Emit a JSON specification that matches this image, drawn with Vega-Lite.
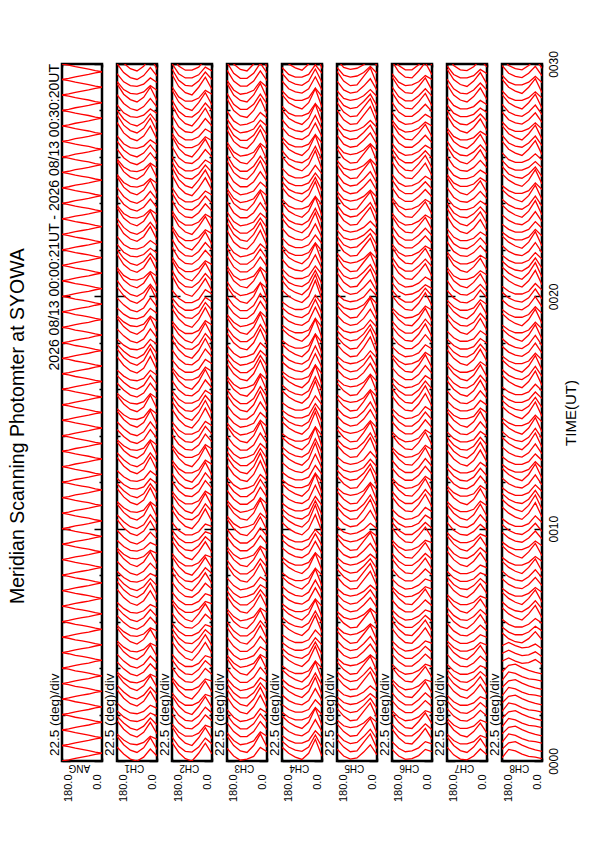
{
  "$schema": "https://vega.github.io/schema/vega-lite/v6.json",
  "padding": {"left": 8, "top": 50, "right": 5, "bottom": 5},
  "background": "white",
  "title": {"text": "Meridian Scanning Photomter at SYOWA", "orient": "left", "anchor": "middle", "fontSize": 19.5, "fontWeight": "normal", "color": "black", "offset": 18},
  "data": {
    "values": [
      {"t":0,"ANG":[0,3,7,10,13,17,20],"CH1":[36,18,5,0,10,31,13],"CH2":[48,22,6,0,20,46,18],"CH3":[33,13,2,5,12,35,24],"CH4":[36,20,10,4,20,56,12],"CH5":[31,13,5,8,23,42,16],"CH6":[30,13,4,6,14,30,24],"CH7":[36,16,5,3,13,31,16],"CH8":[8,30,26,18,12,10,6]},
      {"t":20,"ANG":[40,37,33,30,27,23,20],"CH1":[64,42,28,22,34,60,30],"CH2":[62,38,25,23,36,59,44],"CH3":[65,40,26,22,40,70,36],"CH4":[51,36,28,25,36,67,36],"CH5":[56,36,24,26,48,70,32],"CH6":[50,33,24,26,34,50,44],"CH7":[62,40,27,22,36,58,32],"CH8":[30,47,50,41,34,29,25]},
      {"t":40,"ANG":[40,43,47,50,53,57,60],"CH1":[70,54,44,42,48,64,56],"CH2":[88,62,46,40,60,86,58],"CH3":[73,53,42,45,52,75,64],"CH4":[66,53,46,46,53,78,60],"CH5":[71,53,45,48,63,82,56],"CH6":[82,60,46,44,62,84,56],"CH7":[70,53,44,44,50,66,59],"CH8":[48,70,66,58,52,50,46]},
      {"t":60,"ANG":[80,77,73,70,67,63,60],"CH1":[104,82,68,62,74,100,70],"CH2":[96,75,64,64,72,92,86],"CH3":[99,76,63,63,76,102,81],"CH4":[91,76,68,65,76,107,76],"CH5":[96,76,64,66,88,110,72],"CH6":[96,76,65,65,78,96,81],"CH7":[102,80,67,62,76,98,72],"CH8":[70,87,90,81,74,69,65]},
      {"t":80,"ANG":[80,83,87,90,93,97,100],"CH1":[116,98,85,80,90,111,93],"CH2":[122,98,85,83,96,119,104],"CH3":[119,96,83,83,96,122,101],"CH4":[116,100,90,84,100,136,92],"CH5":[106,91,86,89,98,114,100],"CH6":[122,100,86,84,102,124,96],"CH7":[110,93,84,84,90,106,99],"CH8":[88,110,106,98,92,90,86]},
      {"t":100,"ANG":[120,117,113,110,107,103,100],"CH1":[130,114,104,102,108,124,116],"CH2":[142,118,105,103,116,139,124],"CH3":[133,113,102,105,112,135,124],"CH4":[126,113,106,106,113,138,120],"CH5":[136,116,104,106,128,150,112],"CH6":[130,113,104,106,114,130,124],"CH7":[136,116,105,103,113,131,116],"CH8":[110,127,130,121,114,109,105]},
      {"t":120,"ANG":[120,123,127,130,133,137,140],"CH1":[150,134,124,122,128,144,136],"CH2":[168,142,126,120,140,166,138],"CH3":[165,140,126,122,140,170,136],"CH4":[146,133,126,126,133,158,140],"CH5":[151,133,125,128,143,162,136],"CH6":[156,136,125,125,138,156,141],"CH7":[156,136,125,123,133,151,136],"CH8":[128,150,146,138,132,130,126]},
      {"t":140,"ANG":[160,157,153,150,147,143,140],"CH1":[184,162,148,142,154,180,150],"CH2":[176,155,144,144,152,172,166],"CH3":[185,160,146,142,160,190,156],"CH4":[171,156,148,145,156,187,156],"CH5":[166,151,146,149,158,174,160],"CH6":[176,156,145,145,158,176,161],"CH7":[170,153,144,144,150,166,159],"CH8":[150,167,170,161,154,149,145]},
      {"t":160,"ANG":[160,163,167,170,173,177,180],"CH1":[196,178,165,160,170,191,173],"CH2":[208,182,166,160,180,206,178],"CH3":[199,176,163,163,176,202,181],"CH4":[196,180,170,164,180,216,172],"CH5":[186,171,166,169,178,194,180],"CH6":[202,180,166,164,182,204,176],"CH7":[202,180,167,162,176,198,172],"CH8":[168,190,186,178,172,170,166]},
      {"t":180,"ANG":[200,197,193,190,187,183,180],"CH1":[224,202,188,182,194,220,190],"CH2":[216,195,184,184,192,212,206],"CH3":[213,193,182,185,192,215,204],"CH4":[211,196,188,185,196,227,196],"CH5":[216,196,184,186,208,230,192],"CH6":[210,193,184,186,194,210,204],"CH7":[222,200,187,182,196,218,192],"CH8":[190,207,210,201,194,189,185]},
      {"t":200,"ANG":[200,203,207,210,213,217,220],"CH1":[230,214,204,202,208,224,216],"CH2":[242,218,205,203,216,239,224],"CH3":[239,216,203,203,216,242,221],"CH4":[236,220,210,204,220,256,212],"CH5":[231,213,205,208,223,242,216],"CH6":[242,220,206,204,222,244,216],"CH7":[236,216,205,203,213,231,216],"CH8":[208,230,226,218,212,210,206]},
      {"t":220,"ANG":[240,237,233,230,227,223,220],"CH1":[256,238,225,220,230,251,233],"CH2":[262,238,225,223,236,259,244],"CH3":[265,240,226,222,240,270,236],"CH4":[246,233,226,226,233,258,240],"CH5":[256,236,224,226,248,270,232],"CH6":[250,233,224,226,234,250,244],"CH7":[250,233,224,224,230,246,239],"CH8":[230,247,250,241,234,229,225]},
      {"t":240,"ANG":[240,243,247,250,253,257,260],"CH1":[276,258,245,240,250,271,253],"CH2":[276,255,244,244,252,272,266],"CH3":[273,253,242,245,252,275,264],"CH4":[276,260,250,244,260,296,252],"CH5":[266,251,246,249,258,274,260],"CH6":[276,256,245,245,258,276,261],"CH7":[276,256,245,243,253,271,256],"CH8":[258,266,258,252,254,262,250]},
      {"t":260,"ANG":[280,277,273,270,267,263,260],"CH1":[304,282,268,262,274,300,270],"CH2":[308,282,266,260,280,306,278],"CH3":[293,273,262,265,272,295,284],"CH4":[291,276,268,265,276,307,276],"CH5":[291,273,265,268,283,302,276],"CH6":[296,276,265,265,278,296,281],"CH7":[302,280,267,262,276,298,272],"CH8":[278,286,278,272,274,282,270]},
      {"t":280,"ANG":[280,283,287,290,293,297,300],"CH1":[310,294,284,282,288,304,296],"CH2":[328,302,286,280,300,326,298],"CH3":[319,296,283,283,296,322,301],"CH4":[306,293,286,286,293,318,300],"CH5":[311,293,285,288,303,322,296],"CH6":[310,293,284,286,294,310,304],"CH7":[310,293,284,284,290,306,299],"CH8":[298,306,298,292,294,302,290]},
      {"t":300,"ANG":[320,317,313,310,307,303,300],"CH1":[344,322,308,302,314,340,310],"CH2":[342,318,305,303,316,339,324],"CH3":[345,320,306,302,320,350,316],"CH4":[326,313,306,306,313,338,320],"CH5":[336,316,304,306,328,350,312],"CH6":[342,320,306,304,322,344,316],"CH7":[330,313,304,304,310,326,319],"CH8":[331,316,308,305,316,334,313]},
      {"t":320,"ANG":[320,323,327,330,333,337,340],"CH1":[350,334,324,322,328,344,336],"CH2":[356,335,324,324,332,352,346],"CH3":[359,336,323,323,336,362,341],"CH4":[356,340,330,324,340,376,332],"CH5":[346,331,326,329,338,354,340],"CH6":[362,340,326,324,342,364,336],"CH7":[356,336,325,323,333,351,336],"CH8":[346,333,326,326,333,348,336]},
      {"t":340,"ANG":[360,357,353,350,347,343,340],"CH1":[376,358,345,340,350,371,353],"CH2":[382,358,345,343,356,379,364],"CH3":[385,360,346,342,360,390,356],"CH4":[371,356,348,345,356,387,356],"CH5":[376,356,344,346,368,390,352],"CH6":[376,356,345,345,358,376,361],"CH7":[382,360,347,342,356,378,352],"CH8":[366,353,346,346,353,368,356]},
      {"t":360,"ANG":[360,363,367,370,373,377,380],"CH1":[396,378,365,360,370,391,373],"CH2":[408,382,366,360,380,406,378],"CH3":[393,373,362,365,372,395,384],"CH4":[396,380,370,364,380,416,372],"CH5":[386,371,366,369,378,394,380],"CH6":[390,373,364,366,374,390,384],"CH7":[396,376,365,363,373,391,376],"CH8":[396,380,370,364,380,402,370]},
      {"t":380,"ANG":[400,397,393,390,387,383,380],"CH1":[410,394,384,382,388,404,396],"CH2":[416,395,384,384,392,412,406],"CH3":[425,400,386,382,400,430,396],"CH4":[406,393,386,386,393,418,400],"CH5":[411,393,385,388,403,422,396],"CH6":[416,396,385,385,398,416,401],"CH7":[422,400,387,382,396,418,392],"CH8":[411,396,388,385,396,414,393]},
      {"t":400,"ANG":[400,403,407,410,413,417,420],"CH1":[444,422,408,402,414,440,410],"CH2":[436,415,404,404,412,432,426],"CH3":[439,416,403,403,416,442,421],"CH4":[431,416,408,405,416,447,416],"CH5":[431,413,405,408,423,442,416],"CH6":[442,420,406,404,422,444,416],"CH7":[430,413,404,404,410,426,419],"CH8":[436,420,410,404,420,442,410]},
      {"t":420,"ANG":[440,437,433,430,427,423,420],"CH1":[464,442,428,422,434,460,430],"CH2":[462,438,425,423,436,459,444],"CH3":[453,433,422,425,432,455,444],"CH4":[451,436,428,425,436,467,436],"CH5":[446,431,426,429,438,454,440],"CH6":[450,433,424,426,434,450,444],"CH7":[462,440,427,422,436,458,432],"CH8":[446,433,426,426,433,448,436]},
      {"t":440,"ANG":[440,443,447,450,453,457,460],"CH1":[476,458,445,440,450,471,453],"CH2":[488,462,446,440,460,486,458],"CH3":[473,453,442,445,452,475,464],"CH4":[476,460,450,444,460,496,452],"CH5":[476,456,444,446,468,490,452],"CH6":[470,453,444,446,454,470,464],"CH7":[476,456,445,443,453,471,456],"CH8":[471,456,448,445,456,474,453]},
      {"t":460,"ANG":[480,477,473,470,467,463,460],"CH1":[490,474,464,462,468,484,476],"CH2":[502,478,465,463,476,499,484],"CH3":[505,480,466,462,480,510,476],"CH4":[486,473,466,466,473,498,480],"CH5":[496,476,464,466,488,510,472],"CH6":[496,476,465,465,478,496,481],"CH7":[490,473,464,464,470,486,479],"CH8":[491,476,468,465,476,494,473]},
      {"t":480,"ANG":[480,483,487,490,493,497,500],"CH1":[516,498,485,480,490,511,493],"CH2":[528,502,486,480,500,526,498],"CH3":[519,496,483,483,496,522,501],"CH4":[516,500,490,484,500,536,492],"CH5":[511,493,485,488,503,522,496],"CH6":[522,500,486,484,502,524,496],"CH7":[510,493,484,484,490,506,499],"CH8":[516,500,490,484,500,522,490]},
      {"t":500,"ANG":[520,517,513,510,507,503,500],"CH1":[544,522,508,502,514,540,510],"CH2":[536,515,504,504,512,532,526],"CH3":[545,520,506,502,520,550,516],"CH4":[526,513,506,506,513,538,520],"CH5":[526,511,506,509,518,534,520],"CH6":[536,516,505,505,518,536,521],"CH7":[542,520,507,502,516,538,512],"CH8":[526,513,506,506,513,528,516]},
      {"t":520,"ANG":[520,523,527,530,533,537,540],"CH1":[550,534,524,522,528,544,536],"CH2":[568,542,526,520,540,566,538],"CH3":[553,533,522,525,532,555,544],"CH4":[551,536,528,525,536,567,536],"CH5":[551,533,525,528,543,562,536],"CH6":[562,540,526,524,542,564,536],"CH7":[556,536,525,523,533,551,536],"CH8":[556,540,530,524,540,562,530]},
      {"t":540,"ANG":[560,557,553,550,547,543,540],"CH1":[570,554,544,542,548,564,556],"CH2":[582,558,545,543,556,579,564],"CH3":[579,556,543,543,556,582,561],"CH4":[571,556,548,545,556,587,556],"CH5":[576,556,544,546,568,590,552],"CH6":[570,553,544,546,554,570,564],"CH7":[582,560,547,542,556,578,552],"CH8":[566,553,546,546,553,568,556]},
      {"t":560,"ANG":[560,563,567,570,573,577,580],"CH1":[596,578,565,560,570,591,573],"CH2":[596,575,564,564,572,592,586],"CH3":[599,576,563,563,576,602,581],"CH4":[586,573,566,566,573,598,580],"CH5":[586,571,566,569,578,594,580],"CH6":[602,580,566,564,582,604,576],"CH7":[590,573,564,564,570,586,579],"CH8":[591,576,568,565,576,594,573]},
      {"t":580,"ANG":[600,597,593,590,587,583,580],"CH1":[624,602,588,582,594,620,590],"CH2":[616,595,584,584,592,612,606],"CH3":[625,600,586,582,600,630,596],"CH4":[616,600,590,584,600,636,592],"CH5":[606,591,586,589,598,614,600],"CH6":[616,596,585,585,598,616,601],"CH7":[616,596,585,583,593,611,596],"CH8":[611,596,588,585,596,614,593]},
      {"t":600,"ANG":[600,603,607,610,613,617,620],"CH1":[636,618,605,600,610,636,613],"CH2":[648,622,606,600,620,651,618],"CH3":[633,613,602,605,612,640,624],"CH4":[636,620,610,604,620,661,612],"CH5":[631,613,605,608,623,647,616],"CH6":[630,613,604,606,614,635,624],"CH7":[636,616,605,603,613,636,616],"CH8":[626,613,606,606,613,633,616]},
      {"t":620,"ANG":[640,637,633,630,627,623,620],"CH1":[664,642,628,622,634,665,630],"CH2":[662,638,625,623,636,664,644],"CH3":[665,640,626,622,640,675,636],"CH4":[651,636,628,625,636,672,636],"CH5":[656,636,624,626,648,675,632],"CH6":[650,633,624,626,634,655,644],"CH7":[662,640,627,622,636,663,632],"CH8":[656,640,630,624,640,667,630]},
      {"t":640,"ANG":[640,643,647,650,653,657,660],"CH1":[670,654,644,642,648,669,656],"CH2":[688,662,646,640,660,691,658],"CH3":[673,653,642,645,652,680,664],"CH4":[666,653,646,646,653,683,660],"CH5":[671,653,645,648,663,687,656],"CH6":[682,660,646,644,662,689,656],"CH7":[670,653,644,644,650,671,659],"CH8":[676,660,650,644,660,687,650]},
      {"t":660,"ANG":[680,677,673,670,667,663,660],"CH1":[704,682,668,662,674,705,670],"CH2":[696,675,664,664,672,697,686],"CH3":[699,676,663,663,676,707,681],"CH4":[691,676,668,665,676,712,676],"CH5":[696,676,664,666,688,715,672],"CH6":[696,676,665,665,678,701,681],"CH7":[702,680,667,662,676,703,672],"CH8":[691,676,668,665,676,699,673]},
      {"t":680,"ANG":[680,683,687,690,693,697,700],"CH1":[716,698,685,680,690,716,693],"CH2":[722,698,685,683,696,724,704],"CH3":[719,696,683,683,696,727,701],"CH4":[716,700,690,684,700,741,692],"CH5":[706,691,686,689,698,719,700],"CH6":[722,700,686,684,702,729,696],"CH7":[710,693,684,684,690,711,699],"CH8":[706,693,686,686,693,713,696]},
      {"t":700,"ANG":[720,717,713,710,707,703,700],"CH1":[730,714,704,702,708,729,716],"CH2":[742,718,705,703,716,744,724],"CH3":[733,713,702,705,712,740,724],"CH4":[726,713,706,706,713,743,720],"CH5":[736,716,704,706,728,755,712],"CH6":[730,713,704,706,714,735,724],"CH7":[736,716,705,703,713,736,716],"CH8":[731,716,708,705,716,739,713]},
      {"t":720,"ANG":[720,723,727,730,733,737,740],"CH1":[750,734,724,722,728,749,736],"CH2":[768,742,726,720,740,771,738],"CH3":[765,740,726,722,740,775,736],"CH4":[746,733,726,726,733,763,740],"CH5":[751,733,725,728,743,767,736],"CH6":[756,736,725,725,738,761,741],"CH7":[756,736,725,723,733,756,736],"CH8":[756,740,730,724,740,767,730]},
      {"t":740,"ANG":[760,757,753,750,747,743,740],"CH1":[784,762,748,742,754,785,750],"CH2":[776,755,744,744,752,777,766],"CH3":[785,760,746,742,760,795,756],"CH4":[771,756,748,745,756,792,756],"CH5":[766,751,746,749,758,779,760],"CH6":[776,756,745,745,758,781,761],"CH7":[770,753,744,744,750,771,759],"CH8":[766,753,746,746,753,773,756]},
      {"t":760,"ANG":[760,763,767,770,773,777,780],"CH1":[796,778,765,760,770,796,773],"CH2":[808,782,766,760,780,811,778],"CH3":[799,776,763,763,776,807,781],"CH4":[796,780,770,764,780,821,772],"CH5":[786,771,766,769,778,799,780],"CH6":[802,780,766,764,782,809,776],"CH7":[802,780,767,762,776,803,772],"CH8":[786,773,766,766,773,793,776]},
      {"t":780,"ANG":[800,797,793,790,787,783,780],"CH1":[824,802,788,782,794,825,790],"CH2":[816,795,784,784,792,817,806],"CH3":[813,793,782,785,792,820,804],"CH4":[811,796,788,785,796,832,796],"CH5":[816,796,784,786,808,835,792],"CH6":[810,793,784,786,794,815,804],"CH7":[822,800,787,782,796,823,792],"CH8":[811,796,788,785,796,819,793]},
      {"t":800,"ANG":[800,803,807,810,813,817,820],"CH1":[830,814,804,802,808,829,816],"CH2":[842,818,805,803,816,844,824],"CH3":[839,816,803,803,816,847,821],"CH4":[836,820,810,804,820,861,812],"CH5":[831,813,805,808,823,847,816],"CH6":[842,820,806,804,822,849,816],"CH7":[836,816,805,803,813,836,816],"CH8":[836,820,810,804,820,847,810]},
      {"t":820,"ANG":[840,837,833,830,827,823,820],"CH1":[856,838,825,820,830,856,833],"CH2":[862,838,825,823,836,864,844],"CH3":[865,840,826,822,840,875,836],"CH4":[846,833,826,826,833,863,840],"CH5":[856,836,824,826,848,875,832],"CH6":[850,833,824,826,834,855,844],"CH7":[850,833,824,824,830,851,839],"CH8":[851,836,828,825,836,859,833]},
      {"t":840,"ANG":[840,843,847,850,853,857,860],"CH1":[876,858,845,840,850,876,853],"CH2":[876,855,844,844,852,877,866],"CH3":[873,853,842,845,852,880,864],"CH4":[876,860,850,844,860,901,852],"CH5":[866,851,846,849,858,879,860],"CH6":[876,856,845,845,858,881,861],"CH7":[876,856,845,843,853,876,856],"CH8":[876,860,850,844,860,887,850]},
      {"t":860,"ANG":[880,877,873,870,867,863,860],"CH1":[904,882,868,862,874,905,870],"CH2":[908,882,866,860,880,911,878],"CH3":[893,873,862,865,872,900,884],"CH4":[891,876,868,865,876,912,876],"CH5":[891,873,865,868,883,907,876],"CH6":[896,876,865,865,878,901,881],"CH7":[902,880,867,862,876,903,872],"CH8":[886,873,866,866,873,893,876]},
      {"t":880,"ANG":[880,883,887,890,893,897,900],"CH1":[910,894,884,882,888,909,896],"CH2":[928,902,886,880,900,931,898],"CH3":[919,896,883,883,896,927,901],"CH4":[906,893,886,886,893,923,900],"CH5":[911,893,885,888,903,927,896],"CH6":[910,893,884,886,894,915,904],"CH7":[910,893,884,884,890,911,899],"CH8":[916,900,890,884,900,927,890]},
      {"t":900,"ANG":[920,917,913,910,907,903,900],"CH1":[944,922,908,902,914,945,910],"CH2":[942,918,905,903,916,944,924],"CH3":[945,920,906,902,920,955,916],"CH4":[926,913,906,906,913,943,920],"CH5":[936,916,904,906,928,955,912],"CH6":[942,920,906,904,922,949,916],"CH7":[930,913,904,904,910,931,919],"CH8":[931,916,908,905,916,939,913]},
      {"t":920,"ANG":[920,923,927,930,933,937,940],"CH1":[950,934,924,922,928,949,936],"CH2":[956,935,924,924,932,957,946],"CH3":[959,936,923,923,936,967,941],"CH4":[956,940,930,924,940,981,932],"CH5":[946,931,926,929,938,959,940],"CH6":[962,940,926,924,942,969,936],"CH7":[956,936,925,923,933,956,936],"CH8":[946,933,926,926,933,953,936]},
      {"t":940,"ANG":[960,957,953,950,947,943,940],"CH1":[976,958,945,940,950,976,953],"CH2":[982,958,945,943,956,984,964],"CH3":[985,960,946,942,960,995,956],"CH4":[971,956,948,945,956,992,956],"CH5":[976,956,944,946,968,995,952],"CH6":[976,956,945,945,958,981,961],"CH7":[982,960,947,942,956,983,952],"CH8":[966,953,946,946,953,973,956]},
      {"t":960,"ANG":[960,963,967,970,973,977,980],"CH1":[996,978,965,960,970,996,973],"CH2":[1008,982,966,960,980,1011,978],"CH3":[993,973,962,965,972,1000,984],"CH4":[996,980,970,964,980,1021,972],"CH5":[986,971,966,969,978,999,980],"CH6":[990,973,964,966,974,995,984],"CH7":[996,976,965,963,973,996,976],"CH8":[996,980,970,964,980,1007,970]},
      {"t":980,"ANG":[1000,997,993,990,987,983,980],"CH1":[1010,994,984,982,988,1009,996],"CH2":[1016,995,984,984,992,1017,1006],"CH3":[1025,1000,986,982,1000,1035,996],"CH4":[1006,993,986,986,993,1023,1000],"CH5":[1011,993,985,988,1003,1027,996],"CH6":[1016,996,985,985,998,1021,1001],"CH7":[1022,1000,987,982,996,1023,992],"CH8":[1011,996,988,985,996,1019,993]},
      {"t":1000,"ANG":[1000,1003,1007,1010,1013,1017,1020],"CH1":[1044,1022,1008,1002,1014,1045,1010],"CH2":[1036,1015,1004,1004,1012,1037,1026],"CH3":[1039,1016,1003,1003,1016,1047,1021],"CH4":[1031,1016,1008,1005,1016,1052,1016],"CH5":[1031,1013,1005,1008,1023,1047,1016],"CH6":[1042,1020,1006,1004,1022,1049,1016],"CH7":[1030,1013,1004,1004,1010,1031,1019],"CH8":[1036,1020,1010,1004,1020,1047,1010]},
      {"t":1020,"ANG":[1040,1037,1033,1030,1027,1023,1020],"CH1":[1064,1042,1028,1022,1034,1065,1030],"CH2":[1062,1038,1025,1023,1036,1064,1044],"CH3":[1053,1033,1022,1025,1032,1060,1044],"CH4":[1051,1036,1028,1025,1036,1072,1036],"CH5":[1046,1031,1026,1029,1038,1059,1040],"CH6":[1050,1033,1024,1026,1034,1055,1044],"CH7":[1062,1040,1027,1022,1036,1063,1032],"CH8":[1046,1033,1026,1026,1033,1053,1036]},
      {"t":1040,"ANG":[1040,1043,1047,1050,1053,1057,1060],"CH1":[1076,1058,1045,1040,1050,1076,1053],"CH2":[1088,1062,1046,1040,1060,1091,1058],"CH3":[1073,1053,1042,1045,1052,1080,1064],"CH4":[1076,1060,1050,1044,1060,1101,1052],"CH5":[1076,1056,1044,1046,1068,1095,1052],"CH6":[1070,1053,1044,1046,1054,1075,1064],"CH7":[1076,1056,1045,1043,1053,1076,1056],"CH8":[1071,1056,1048,1045,1056,1079,1053]},
      {"t":1060,"ANG":[1080,1077,1073,1070,1067,1063,1060],"CH1":[1090,1074,1064,1062,1068,1089,1076],"CH2":[1102,1078,1065,1063,1076,1104,1084],"CH3":[1105,1080,1066,1062,1080,1115,1076],"CH4":[1086,1073,1066,1066,1073,1103,1080],"CH5":[1096,1076,1064,1066,1088,1115,1072],"CH6":[1096,1076,1065,1065,1078,1101,1081],"CH7":[1090,1073,1064,1064,1070,1091,1079],"CH8":[1091,1076,1068,1065,1076,1099,1073]},
      {"t":1080,"ANG":[1080,1083,1087,1090,1093,1097,1100],"CH1":[1116,1098,1085,1080,1090,1116,1093],"CH2":[1128,1102,1086,1080,1100,1131,1098],"CH3":[1119,1096,1083,1083,1096,1127,1101],"CH4":[1116,1100,1090,1084,1100,1141,1092],"CH5":[1111,1093,1085,1088,1103,1127,1096],"CH6":[1122,1100,1086,1084,1102,1129,1096],"CH7":[1110,1093,1084,1084,1090,1111,1099],"CH8":[1116,1100,1090,1084,1100,1127,1090]},
      {"t":1100,"ANG":[1120,1117,1113,1110,1107,1103,1100],"CH1":[1144,1122,1108,1102,1114,1145,1110],"CH2":[1136,1115,1104,1104,1112,1137,1126],"CH3":[1145,1120,1106,1102,1120,1155,1116],"CH4":[1126,1113,1106,1106,1113,1143,1120],"CH5":[1126,1111,1106,1109,1118,1139,1120],"CH6":[1136,1116,1105,1105,1118,1141,1121],"CH7":[1142,1120,1107,1102,1116,1143,1112],"CH8":[1126,1113,1106,1106,1113,1133,1116]},
      {"t":1120,"ANG":[1120,1123,1127,1130,1133,1137,1140],"CH1":[1150,1134,1124,1122,1128,1149,1136],"CH2":[1168,1142,1126,1120,1140,1171,1138],"CH3":[1153,1133,1122,1125,1132,1160,1144],"CH4":[1151,1136,1128,1125,1136,1172,1136],"CH5":[1151,1133,1125,1128,1143,1167,1136],"CH6":[1162,1140,1126,1124,1142,1169,1136],"CH7":[1156,1136,1125,1123,1133,1156,1136],"CH8":[1156,1140,1130,1124,1140,1167,1130]},
      {"t":1140,"ANG":[1160,1157,1153,1150,1147,1143,1140],"CH1":[1170,1154,1144,1142,1148,1169,1156],"CH2":[1182,1158,1145,1143,1156,1184,1164],"CH3":[1179,1156,1143,1143,1156,1187,1161],"CH4":[1171,1156,1148,1145,1156,1192,1156],"CH5":[1176,1156,1144,1146,1168,1195,1152],"CH6":[1170,1153,1144,1146,1154,1175,1164],"CH7":[1182,1160,1147,1142,1156,1183,1152],"CH8":[1166,1153,1146,1146,1153,1173,1156]},
      {"t":1160,"ANG":[1160,1163,1167,1170,1173,1177,1180],"CH1":[1196,1178,1165,1160,1170,1196,1173],"CH2":[1196,1175,1164,1164,1172,1197,1186],"CH3":[1199,1176,1163,1163,1176,1207,1181],"CH4":[1186,1173,1166,1166,1173,1203,1180],"CH5":[1186,1171,1166,1169,1178,1199,1180],"CH6":[1202,1180,1166,1164,1182,1209,1176],"CH7":[1190,1173,1164,1164,1170,1191,1179],"CH8":[1191,1176,1168,1165,1176,1199,1173]},
      {"t":1180,"ANG":[1200,1197,1193,1190,1187,1183,1180],"CH1":[1224,1202,1188,1182,1194,1225,1190],"CH2":[1216,1195,1184,1184,1192,1217,1206],"CH3":[1225,1200,1186,1182,1200,1235,1196],"CH4":[1216,1200,1190,1184,1200,1241,1192],"CH5":[1206,1191,1186,1189,1198,1219,1200],"CH6":[1216,1196,1185,1185,1198,1221,1201],"CH7":[1216,1196,1185,1183,1193,1216,1196],"CH8":[1211,1196,1188,1185,1196,1219,1193]},
      {"t":1200,"ANG":[1200,1203,1207,1210,1213,1217,1220],"CH1":[1241,1218,1205,1200,1210,1231,1209],"CH2":[1253,1222,1206,1200,1220,1246,1214],"CH3":[1238,1213,1202,1205,1212,1235,1220],"CH4":[1241,1220,1210,1204,1220,1256,1208],"CH5":[1236,1213,1205,1208,1223,1242,1212],"CH6":[1235,1213,1204,1206,1214,1230,1220],"CH7":[1241,1216,1205,1203,1213,1231,1212],"CH8":[1226,1213,1206,1206,1213,1233,1216]},
      {"t":1220,"ANG":[1240,1237,1233,1230,1227,1223,1220],"CH1":[1269,1242,1228,1222,1234,1260,1226],"CH2":[1267,1238,1225,1223,1236,1259,1240],"CH3":[1270,1240,1226,1222,1240,1270,1232],"CH4":[1256,1236,1228,1225,1236,1267,1232],"CH5":[1261,1236,1224,1226,1248,1270,1228],"CH6":[1255,1233,1224,1226,1234,1250,1240],"CH7":[1267,1240,1227,1222,1236,1258,1228],"CH8":[1256,1240,1230,1224,1240,1267,1230]},
      {"t":1240,"ANG":[1240,1243,1247,1250,1253,1257,1260],"CH1":[1275,1254,1244,1242,1248,1264,1252],"CH2":[1293,1262,1246,1240,1260,1286,1254],"CH3":[1278,1253,1242,1245,1252,1275,1260],"CH4":[1271,1253,1246,1246,1253,1278,1256],"CH5":[1276,1253,1245,1248,1263,1282,1252],"CH6":[1287,1260,1246,1244,1262,1284,1252],"CH7":[1275,1253,1244,1244,1250,1266,1255],"CH8":[1276,1260,1250,1244,1260,1287,1250]},
      {"t":1260,"ANG":[1280,1277,1273,1270,1267,1263,1260],"CH1":[1309,1282,1268,1262,1274,1300,1266],"CH2":[1301,1275,1264,1264,1272,1292,1282],"CH3":[1304,1276,1263,1263,1276,1302,1277],"CH4":[1296,1276,1268,1265,1276,1307,1272],"CH5":[1301,1276,1264,1266,1288,1310,1268],"CH6":[1301,1276,1265,1265,1278,1296,1277],"CH7":[1307,1280,1267,1262,1276,1298,1268],"CH8":[1291,1276,1268,1265,1276,1299,1273]},
      {"t":1280,"ANG":[1280,1283,1287,1290,1293,1297,1300],"CH1":[1321,1298,1285,1280,1290,1311,1289],"CH2":[1327,1298,1285,1283,1296,1319,1300],"CH3":[1324,1296,1283,1283,1296,1322,1297],"CH4":[1321,1300,1290,1284,1300,1336,1288],"CH5":[1311,1291,1286,1289,1298,1314,1296],"CH6":[1327,1300,1286,1284,1302,1324,1292],"CH7":[1315,1293,1284,1284,1290,1306,1295],"CH8":[1306,1293,1286,1286,1293,1313,1296]},
      {"t":1300,"ANG":[1320,1317,1313,1310,1307,1303,1300],"CH1":[1335,1314,1304,1302,1308,1324,1312],"CH2":[1347,1318,1305,1303,1316,1339,1320],"CH3":[1338,1313,1302,1305,1312,1335,1320],"CH4":[1331,1313,1306,1306,1313,1338,1316],"CH5":[1341,1316,1304,1306,1328,1350,1308],"CH6":[1335,1313,1304,1306,1314,1330,1320],"CH7":[1341,1316,1305,1303,1313,1331,1312],"CH8":[1331,1316,1308,1305,1316,1339,1313]},
      {"t":1320,"ANG":[1320,1323,1327,1330,1333,1337,1340],"CH1":[1355,1334,1324,1322,1328,1344,1332],"CH2":[1373,1342,1326,1320,1340,1366,1334],"CH3":[1370,1340,1326,1322,1340,1370,1332],"CH4":[1351,1333,1326,1326,1333,1358,1336],"CH5":[1356,1333,1325,1328,1343,1362,1332],"CH6":[1361,1336,1325,1325,1338,1356,1337],"CH7":[1361,1336,1325,1323,1333,1351,1332],"CH8":[1356,1340,1330,1324,1340,1367,1330]},
      {"t":1340,"ANG":[1360,1357,1353,1350,1347,1343,1340],"CH1":[1389,1362,1348,1342,1354,1380,1346],"CH2":[1381,1355,1344,1344,1352,1372,1362],"CH3":[1390,1360,1346,1342,1360,1390,1352],"CH4":[1376,1356,1348,1345,1356,1387,1352],"CH5":[1371,1351,1346,1349,1358,1374,1356],"CH6":[1381,1356,1345,1345,1358,1376,1357],"CH7":[1375,1353,1344,1344,1350,1366,1355],"CH8":[1366,1353,1346,1346,1353,1373,1356]},
      {"t":1360,"ANG":[1360,1363,1367,1370,1373,1377,1380],"CH1":[1401,1378,1365,1360,1370,1391,1369],"CH2":[1413,1382,1366,1360,1380,1406,1374],"CH3":[1404,1376,1363,1363,1376,1402,1377],"CH4":[1401,1380,1370,1364,1380,1416,1368],"CH5":[1391,1371,1366,1369,1378,1394,1376],"CH6":[1407,1380,1366,1364,1382,1404,1372],"CH7":[1407,1380,1367,1362,1376,1398,1368],"CH8":[1386,1373,1366,1366,1373,1393,1376]},
      {"t":1380,"ANG":[1400,1397,1393,1390,1387,1383,1380],"CH1":[1429,1402,1388,1382,1394,1420,1386],"CH2":[1421,1395,1384,1384,1392,1412,1402],"CH3":[1418,1393,1382,1385,1392,1415,1400],"CH4":[1416,1396,1388,1385,1396,1427,1392],"CH5":[1421,1396,1384,1386,1408,1430,1388],"CH6":[1415,1393,1384,1386,1394,1410,1400],"CH7":[1427,1400,1387,1382,1396,1418,1388],"CH8":[1411,1396,1388,1385,1396,1419,1393]},
      {"t":1400,"ANG":[1400,1403,1407,1410,1413,1417,1420],"CH1":[1435,1414,1404,1402,1408,1424,1412],"CH2":[1447,1418,1405,1403,1416,1439,1420],"CH3":[1444,1416,1403,1403,1416,1442,1417],"CH4":[1441,1420,1410,1404,1420,1456,1408],"CH5":[1436,1413,1405,1408,1423,1442,1412],"CH6":[1447,1420,1406,1404,1422,1444,1412],"CH7":[1441,1416,1405,1403,1413,1431,1412],"CH8":[1436,1420,1410,1404,1420,1447,1410]},
      {"t":1420,"ANG":[1440,1437,1433,1430,1427,1423,1420],"CH1":[1461,1438,1425,1420,1430,1451,1429],"CH2":[1467,1438,1425,1423,1436,1459,1440],"CH3":[1470,1440,1426,1422,1440,1470,1432],"CH4":[1451,1433,1426,1426,1433,1458,1436],"CH5":[1461,1436,1424,1426,1448,1470,1428],"CH6":[1455,1433,1424,1426,1434,1450,1440],"CH7":[1455,1433,1424,1424,1430,1446,1435],"CH8":[1451,1436,1428,1425,1436,1459,1433]},
      {"t":1440,"ANG":[1440,1443,1447,1450,1453,1457,1460],"CH1":[1481,1458,1445,1440,1450,1471,1449],"CH2":[1481,1455,1444,1444,1452,1472,1462],"CH3":[1478,1453,1442,1445,1452,1475,1460],"CH4":[1481,1460,1450,1444,1460,1496,1448],"CH5":[1471,1451,1446,1449,1458,1474,1456],"CH6":[1481,1456,1445,1445,1458,1476,1457],"CH7":[1481,1456,1445,1443,1453,1471,1452],"CH8":[1476,1460,1450,1444,1460,1487,1450]},
      {"t":1460,"ANG":[1480,1477,1473,1470,1467,1463,1460],"CH1":[1509,1482,1468,1462,1474,1500,1466],"CH2":[1513,1482,1466,1460,1480,1506,1474],"CH3":[1498,1473,1462,1465,1472,1495,1480],"CH4":[1496,1476,1468,1465,1476,1507,1472],"CH5":[1496,1473,1465,1468,1483,1502,1472],"CH6":[1501,1476,1465,1465,1478,1496,1477],"CH7":[1507,1480,1467,1462,1476,1498,1468],"CH8":[1486,1473,1466,1466,1473,1493,1476]},
      {"t":1480,"ANG":[1480,1483,1487,1490,1493,1497,1500],"CH1":[1515,1494,1484,1482,1488,1504,1492],"CH2":[1533,1502,1486,1480,1500,1526,1494],"CH3":[1524,1496,1483,1483,1496,1522,1497],"CH4":[1511,1493,1486,1486,1493,1518,1496],"CH5":[1516,1493,1485,1488,1503,1522,1492],"CH6":[1515,1493,1484,1486,1494,1510,1500],"CH7":[1515,1493,1484,1484,1490,1506,1495],"CH8":[1516,1500,1490,1484,1500,1527,1490]},
      {"t":1500,"ANG":[1520,1517,1513,1510,1507,1503,1500],"CH1":[1549,1522,1508,1502,1514,1540,1506],"CH2":[1547,1518,1505,1503,1516,1539,1520],"CH3":[1550,1520,1506,1502,1520,1550,1512],"CH4":[1531,1513,1506,1506,1513,1538,1516],"CH5":[1541,1516,1504,1506,1528,1550,1508],"CH6":[1547,1520,1506,1504,1522,1544,1512],"CH7":[1535,1513,1504,1504,1510,1526,1515],"CH8":[1536,1516,1508,1505,1516,1534,1509]},
      {"t":1520,"ANG":[1520,1523,1527,1530,1533,1537,1540],"CH1":[1555,1534,1524,1522,1528,1544,1532],"CH2":[1561,1535,1524,1524,1532,1552,1542],"CH3":[1564,1536,1523,1523,1536,1562,1537],"CH4":[1561,1540,1530,1524,1540,1576,1528],"CH5":[1551,1531,1526,1529,1538,1554,1536],"CH6":[1567,1540,1526,1524,1542,1564,1532],"CH7":[1561,1536,1525,1523,1533,1551,1532],"CH8":[1551,1533,1526,1526,1533,1548,1532]},
      {"t":1540,"ANG":[1560,1557,1553,1550,1547,1543,1540],"CH1":[1581,1558,1545,1540,1550,1571,1549],"CH2":[1587,1558,1545,1543,1556,1579,1560],"CH3":[1590,1560,1546,1542,1560,1590,1552],"CH4":[1576,1556,1548,1545,1556,1587,1552],"CH5":[1581,1556,1544,1546,1568,1590,1548],"CH6":[1581,1556,1545,1545,1558,1576,1557],"CH7":[1587,1560,1547,1542,1556,1578,1548],"CH8":[1571,1553,1546,1546,1553,1568,1552]},
      {"t":1560,"ANG":[1560,1563,1567,1570,1573,1577,1580],"CH1":[1601,1578,1565,1560,1570,1591,1569],"CH2":[1613,1582,1566,1560,1580,1606,1574],"CH3":[1598,1573,1562,1565,1572,1595,1580],"CH4":[1601,1580,1570,1564,1580,1616,1568],"CH5":[1591,1571,1566,1569,1578,1594,1576],"CH6":[1595,1573,1564,1566,1574,1590,1580],"CH7":[1601,1576,1565,1563,1573,1591,1572],"CH8":[1601,1580,1570,1564,1580,1602,1566]},
      {"t":1580,"ANG":[1600,1597,1593,1590,1587,1583,1580],"CH1":[1615,1594,1584,1582,1588,1604,1592],"CH2":[1621,1595,1584,1584,1592,1612,1602],"CH3":[1630,1600,1586,1582,1600,1630,1592],"CH4":[1611,1593,1586,1586,1593,1618,1596],"CH5":[1616,1593,1585,1588,1603,1622,1592],"CH6":[1621,1596,1585,1585,1598,1616,1597],"CH7":[1627,1600,1587,1582,1596,1618,1588],"CH8":[1616,1596,1588,1585,1596,1614,1589]},
      {"t":1600,"ANG":[1600,1603,1607,1610,1613,1617,1620],"CH1":[1649,1622,1608,1602,1614,1640,1606],"CH2":[1641,1615,1604,1604,1612,1632,1622],"CH3":[1644,1616,1603,1603,1616,1642,1617],"CH4":[1636,1616,1608,1605,1616,1647,1612],"CH5":[1636,1613,1605,1608,1623,1642,1612],"CH6":[1647,1620,1606,1604,1622,1644,1612],"CH7":[1635,1613,1604,1604,1610,1626,1615],"CH8":[1641,1620,1610,1604,1620,1642,1606]},
      {"t":1620,"ANG":[1640,1637,1633,1630,1627,1623,1620],"CH1":[1669,1642,1628,1622,1634,1660,1626],"CH2":[1667,1638,1625,1623,1636,1659,1640],"CH3":[1658,1633,1622,1625,1632,1655,1640],"CH4":[1656,1636,1628,1625,1636,1667,1632],"CH5":[1651,1631,1626,1629,1638,1654,1636],"CH6":[1655,1633,1624,1626,1634,1650,1640],"CH7":[1667,1640,1627,1622,1636,1658,1628],"CH8":[1651,1633,1626,1626,1633,1648,1632]},
      {"t":1640,"ANG":[1640,1643,1647,1650,1653,1657,1660],"CH1":[1681,1658,1645,1640,1650,1671,1649],"CH2":[1693,1662,1646,1640,1660,1686,1654],"CH3":[1678,1653,1642,1645,1652,1675,1660],"CH4":[1681,1660,1650,1644,1660,1696,1648],"CH5":[1681,1656,1644,1646,1668,1690,1648],"CH6":[1675,1653,1644,1646,1654,1670,1660],"CH7":[1681,1656,1645,1643,1653,1671,1652],"CH8":[1676,1656,1648,1645,1656,1674,1649]},
      {"t":1660,"ANG":[1680,1677,1673,1670,1667,1663,1660],"CH1":[1695,1674,1664,1662,1668,1684,1672],"CH2":[1707,1678,1665,1663,1676,1699,1680],"CH3":[1710,1680,1666,1662,1680,1710,1672],"CH4":[1691,1673,1666,1666,1673,1698,1676],"CH5":[1701,1676,1664,1666,1688,1710,1668],"CH6":[1701,1676,1665,1665,1678,1696,1677],"CH7":[1695,1673,1664,1664,1670,1686,1675],"CH8":[1696,1676,1668,1665,1676,1694,1669]},
      {"t":1680,"ANG":[1680,1683,1687,1690,1693,1697,1700],"CH1":[1721,1698,1685,1680,1690,1711,1689],"CH2":[1733,1702,1686,1680,1700,1726,1694],"CH3":[1724,1696,1683,1683,1696,1722,1697],"CH4":[1721,1700,1690,1684,1700,1736,1688],"CH5":[1716,1693,1685,1688,1703,1722,1692],"CH6":[1727,1700,1686,1684,1702,1724,1692],"CH7":[1715,1693,1684,1684,1690,1706,1695],"CH8":[1721,1700,1690,1684,1700,1722,1686]},
      {"t":1700,"ANG":[1720,1717,1713,1710,1707,1703,1700],"CH1":[1749,1722,1708,1702,1714,1740,1706],"CH2":[1741,1715,1704,1704,1712,1732,1722],"CH3":[1750,1720,1706,1702,1720,1750,1712],"CH4":[1731,1713,1706,1706,1713,1738,1716],"CH5":[1731,1711,1706,1709,1718,1734,1716],"CH6":[1741,1716,1705,1705,1718,1736,1717],"CH7":[1747,1720,1707,1702,1716,1738,1708],"CH8":[1731,1713,1706,1706,1713,1728,1712]},
      {"t":1720,"ANG":[1720,1723,1727,1730,1733,1737,1740],"CH1":[1755,1734,1724,1722,1728,1744,1732],"CH2":[1773,1742,1726,1720,1740,1766,1734],"CH3":[1758,1733,1722,1725,1732,1755,1740],"CH4":[1756,1736,1728,1725,1736,1767,1732],"CH5":[1756,1733,1725,1728,1743,1762,1732],"CH6":[1767,1740,1726,1724,1742,1764,1732],"CH7":[1761,1736,1725,1723,1733,1751,1732],"CH8":[1761,1740,1730,1724,1740,1762,1726]},
      {"t":1740,"ANG":[1760,1757,1753,1750,1747,1743,1740],"CH1":[1775,1754,1744,1742,1748,1764,1752],"CH2":[1787,1758,1745,1743,1756,1779,1760],"CH3":[1784,1756,1743,1743,1756,1782,1757],"CH4":[1776,1756,1748,1745,1756,1787,1752],"CH5":[1781,1756,1744,1746,1768,1790,1748],"CH6":[1775,1753,1744,1746,1754,1770,1760],"CH7":[1787,1760,1747,1742,1756,1778,1748],"CH8":[1771,1753,1746,1746,1753,1768,1752]},
      {"t":1760,"ANG":[1760,1763,1767,1770,1773,1777,1780],"CH1":[1801,1778,1765,1760,1770,1791,1769],"CH2":[1801,1775,1764,1764,1772,1792,1782],"CH3":[1804,1776,1763,1763,1776,1802,1777],"CH4":[1791,1773,1766,1766,1773,1798,1776],"CH5":[1791,1771,1766,1769,1778,1794,1776],"CH6":[1807,1780,1766,1764,1782,1804,1772],"CH7":[1795,1773,1764,1764,1770,1786,1775],"CH8":[1796,1776,1768,1765,1776,1794,1769]},
      {"t":1780,"ANG":[1800,1797,1793,1790,1787,1783,1780],"CH1":[1829,1802,1788,1782,1794,1820,1786],"CH2":[1821,1795,1784,1784,1792,1812,1802],"CH3":[1830,1800,1786,1782,1800,1830,1792],"CH4":[1821,1800,1790,1784,1800,1836,1788],"CH5":[1811,1791,1786,1789,1798,1814,1796],"CH6":[1821,1796,1785,1785,1798,1816,1797],"CH7":[1821,1796,1785,1783,1793,1811,1792],"CH8":[1816,1796,1788,1785,1796,1814,1789]}
    ]
  },
  "transform": [
    {"fold": ["ANG", "CH1", "CH2", "CH3", "CH4", "CH5", "CH6", "CH7", "CH8"], "as": ["k", "v"]},
    {"flatten": ["v"], "as": ["y"]},
    {"window": [{"op": "row_number", "as": "i"}], "groupby": ["k", "t"]}
  ],
  "facet": {
    "column": {"field": "k", "type": "nominal", "sort": ["ANG", "CH1", "CH2", "CH3", "CH4", "CH5", "CH6", "CH7", "CH8"], "header": null}
  },
  "spacing": 15,
  "bounds": "flush",
  "spec": {
    "width": 40,
    "height": 697,
    "layer": [
      {
        "mark": {"type": "line", "color": "red", "strokeWidth": 1.3, "clip": true},
        "encoding": {
          "x": {
            "field": "i",
            "type": "quantitative",
            "scale": {"domain": [1, 7], "nice": false, "zero": false},
            "axis": {
              "orient": "bottom",
              "values": [1, 1.75, 2.5, 3.25, 4, 4.75, 5.5, 6.25, 7],
              "domain": false,
              "ticks": false,
              "grid": true,
              "gridColor": "black",
              "gridWidth": 1.5,
              "gridOpacity": 1,
              "gridDash": [3, 691, 3],
              "labelExpr": "datum.value == 1 ? '180.0' : datum.value == 7 ? '0.0' : ''",
              "labelAngle": 270,
              "labelAlign": "right",
              "labelBaseline": {"condition": {"test": "datum.value == 1", "value": "top"}, "value": "bottom"},
              "labelPadding": 13,
              "labelFlush": false,
              "labelOverlap": false,
              "labelFontSize": 11,
              "labelColor": "black",
              "title": null
            }
          },
          "y": {
            "field": "y",
            "type": "quantitative",
            "scale": {"domain": [0, 1800], "nice": false, "zero": false},
            "axis": {
              "orient": "right",
              "values": [0, 60, 120, 180, 240, 300, 360, 420, 480, 540, 600, 660, 720, 780, 840, 900, 960, 1020, 1080, 1140, 1200, 1260, 1320, 1380, 1440, 1500, 1560, 1620, 1680, 1740, 1800],
              "domain": false,
              "ticks": false,
              "grid": true,
              "gridColor": "black",
              "gridWidth": 1.5,
              "gridOpacity": 1,
              "gridDash": {"condition": {"test": "datum.value % 600 == 0", "value": [8, 24, 8]}, "value": [3, 34, 3]},
              "labelExpr": "datum.value == 0 ? '0000' : datum.value == 600 ? '0010' : datum.value == 1200 ? '0020' : datum.value == 1800 ? '0030' : ''",
              "labelAngle": 270,
              "labelAlign": "center",
              "labelBaseline": "top",
              "labelPadding": 6,
              "labelOverlap": false,
              "labelFontSize": 12,
              "labelColor": "black",
              "title": "TIME(UT)",
              "titleAngle": 270,
              "titleFontSize": 15,
              "titleFontWeight": "normal",
              "titleColor": "black",
              "titlePadding": 19
            }
          },
          "detail": {"field": "t", "type": "nominal"}
        }
      },
      {
        "transform": [{"aggregate": [{"op": "count", "as": "n"}], "groupby": ["k"]}],
        "mark": {"type": "text", "angle": 270, "align": "left", "baseline": "bottom", "fontSize": 13.5, "color": "black", "text": "22.5 (deg)/div"},
        "encoding": {"x": {"datum": 1}, "y": {"datum": 13}}
      },
      {
        "transform": [{"aggregate": [{"op": "count", "as": "n"}], "groupby": ["k"]}],
        "mark": {"type": "text", "angle": 180, "align": "center", "baseline": "middle", "fontSize": 10, "color": "black"},
        "encoding": {"x": {"datum": 3.6}, "y": {"datum": -18}, "text": {"field": "k"}}
      },
      {
        "transform": [{"filter": "datum.k == 'ANG'"}, {"aggregate": [{"op": "count", "as": "n"}], "groupby": ["k"]}],
        "mark": {"type": "text", "angle": 270, "align": "right", "baseline": "bottom", "fontSize": 14, "color": "black", "text": "2026 08/13 00:00:21UT - 2026 08/13 00:30:20UT"},
        "encoding": {"x": {"datum": 1}, "y": {"datum": 1800}}
      }
    ]
  },
  "config": {
    "font": "Liberation Sans",
    "view": {"stroke": "black", "strokeWidth": 2.5}
  }
}
